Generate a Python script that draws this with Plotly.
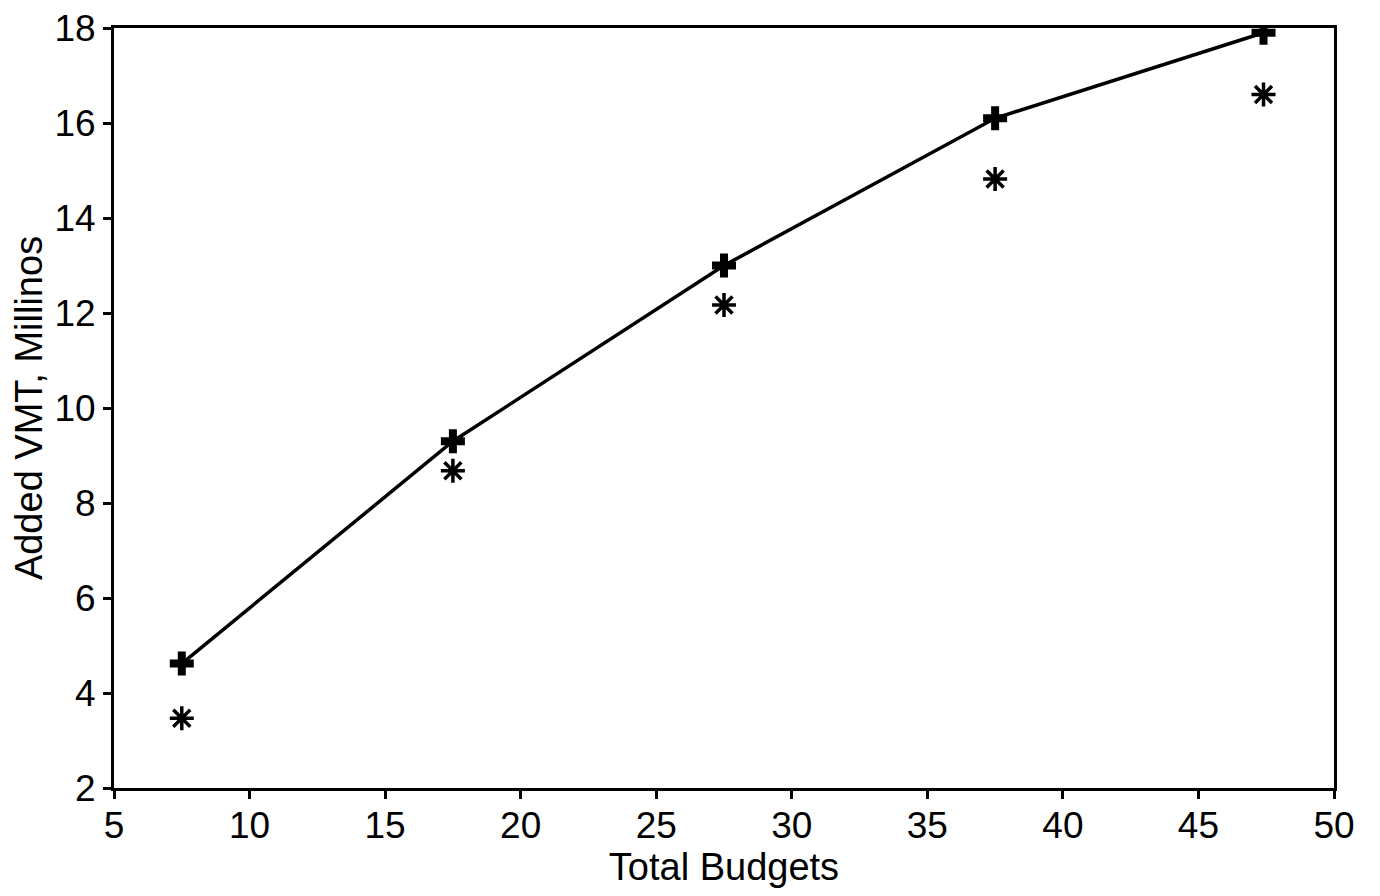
import plotly.graph_objects as go

budgets = [7.5, 17.5, 27.5, 37.5, 47.4]
vmt_line = [4.62, 9.3, 13.0, 16.1, 17.9]
vmt_star = [3.47, 8.68, 12.17, 14.82, 16.6]

x_ticks = [5, 10, 15, 20, 25, 30, 35, 40, 45, 50]
y_ticks = [2, 4, 6, 8, 10, 12, 14, 16, 18]

fig = go.Figure()
fig.add_trace(go.Scatter(
    x=budgets, y=vmt_line, mode="lines+markers",
    line=dict(color="black", width=3.5),
    marker=dict(symbol="cross", size=20, color="black", line=dict(width=0)),
    showlegend=False,
))
fig.add_trace(go.Scatter(
    x=budgets, y=vmt_star, mode="markers",
    marker=dict(symbol="asterisk-open", size=20, color="black",
                line=dict(color="black", width=3.5)),
    showlegend=False,
))

font_family = "Liberation Sans, Arial, sans-serif"
fig.update_layout(
    width=1380, height=896,
    margin=dict(l=106, r=54, t=20, b=116, autoexpand=False),
    paper_bgcolor="white", plot_bgcolor="white",
    font=dict(family=font_family, color="black", size=37),
)
fig.update_xaxes(
    range=[5, 50], tickvals=x_ticks, ticktext=[str(v) for v in x_ticks],
    showgrid=False, zeroline=False,
    showline=True, linecolor="black", linewidth=3, mirror=True,
    ticks="outside", ticklen=8, tickwidth=3, tickcolor="black",
    tickfont=dict(size=37), ticklabeloverflow="allow", ticklabelstandoff=-5,
    title=dict(text="Total Budgets", font=dict(size=38), standoff=6),
)
fig.update_yaxes(
    range=[2, 18], tickvals=y_ticks, ticktext=[str(v) for v in y_ticks],
    showgrid=False, zeroline=False,
    showline=True, linecolor="black", linewidth=3, mirror=True,
    ticks="outside", ticklen=8, tickwidth=3, tickcolor="black",
    tickfont=dict(size=37), ticklabeloverflow="allow",
    title=dict(text="Added VMT, Millinos", font=dict(size=38), standoff=8),
)

fig.write_html("out.html")
